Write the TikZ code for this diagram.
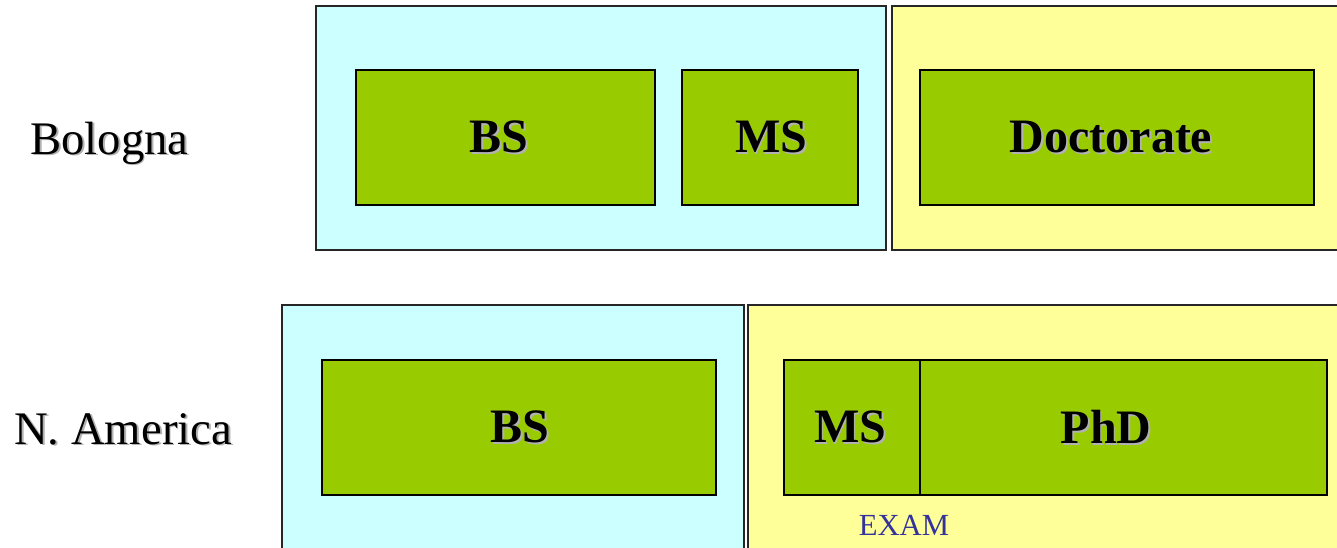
\documentclass[tikz,border=0pt]{standalone}
\usepackage{fontspec}
\setmainfont{Liberation Serif}
\definecolor{cyanbg}{HTML}{CCFFFF}
\definecolor{yellowbg}{HTML}{FFFF99}
\definecolor{greenbox}{HTML}{99CC00}
\definecolor{examblue}{HTML}{333399}
\newcommand\shadowtxt[1]{\leavevmode\rlap{\hspace{1.4pt}\raisebox{-1.4pt}{\color{black!30}#1}}#1}
\tikzset{
  period/.style={draw=black!85, line width=1.4pt, anchor=north west, inner sep=0pt, outer sep=0pt},
  cyanper/.style={period, fill=cyanbg},
  yellowper/.style={period, fill=yellowbg},
  degree/.style={draw=black, line width=1.6pt, fill=greenbox, anchor=north west, inner sep=0pt, outer sep=0pt},
  degtext/.style={font=\fontsize{36}{40}\selectfont\bfseries, text=black, inner sep=0pt},
  rowlabel/.style={anchor=base west, font=\fontsize{35}{40}\selectfont, inner sep=0pt},
  examlabel/.style={font=\fontsize{23}{26}\selectfont, text=examblue, inner sep=0pt}
}
\begin{document}
\begin{tikzpicture}[x=0.75pt, y=-0.75pt]
\useasboundingbox (0,0) rectangle (1337,547);
\clip (0,0) rectangle (1337,547);
\fill[white] (0,0) rectangle (1337,547);
% Bologna row
\node[cyanper, minimum width=570*0.75pt, minimum height=244*0.75pt] (bcyan) at (316,6) {};
\node[yellowper, minimum width=460*0.75pt, minimum height=244*0.75pt] (byellow) at (892,6) {};
\node[degree, minimum width=299*0.75pt, minimum height=135*0.75pt] (bbs) at (356,70) {};
\node[degtext] (bbstxt) at (499,138) {\shadowtxt{BS}};
\node[degree, minimum width=176*0.75pt, minimum height=135*0.75pt] (bms) at (682,70) {};
\node[degtext] (bmstxt) at (771,138) {\shadowtxt{MS}};
\node[degree, minimum width=394*0.75pt, minimum height=135*0.75pt] (bdoc) at (920,70) {};
\node[degtext] (bdoctxt) at (1111,138) {\shadowtxt{Doctorate}};
\node[rowlabel] (bolognalbl) at (30,154) {\shadowtxt{Bologna}};
% North America row
\node[cyanper, minimum width=462*0.75pt, minimum height=260*0.75pt] (ncyan) at (282,305) {};
\node[yellowper, minimum width=600*0.75pt, minimum height=260*0.75pt] (nyellow) at (748,305) {};
\node[degree, minimum width=394*0.75pt, minimum height=135*0.75pt] (nbs) at (322,360) {};
\node[degtext] (nbstxt) at (520,428) {\shadowtxt{BS}};
\node[degree, minimum width=136*0.75pt, minimum height=135*0.75pt] (nms) at (784,360) {};
\node[degtext] (nmstxt) at (850,428) {\shadowtxt{MS}};
\node[degree, minimum width=407*0.75pt, minimum height=135*0.75pt] (nphd) at (920,360) {};
\node[degtext] (nphdtxt) at (1106,428) {\shadowtxt{PhD}};
\node[rowlabel] (namlbl) at (14,444) {\shadowtxt{N. America}};
\node[examlabel] (exam) at (904,525) {EXAM};
\end{tikzpicture}
\end{document}
